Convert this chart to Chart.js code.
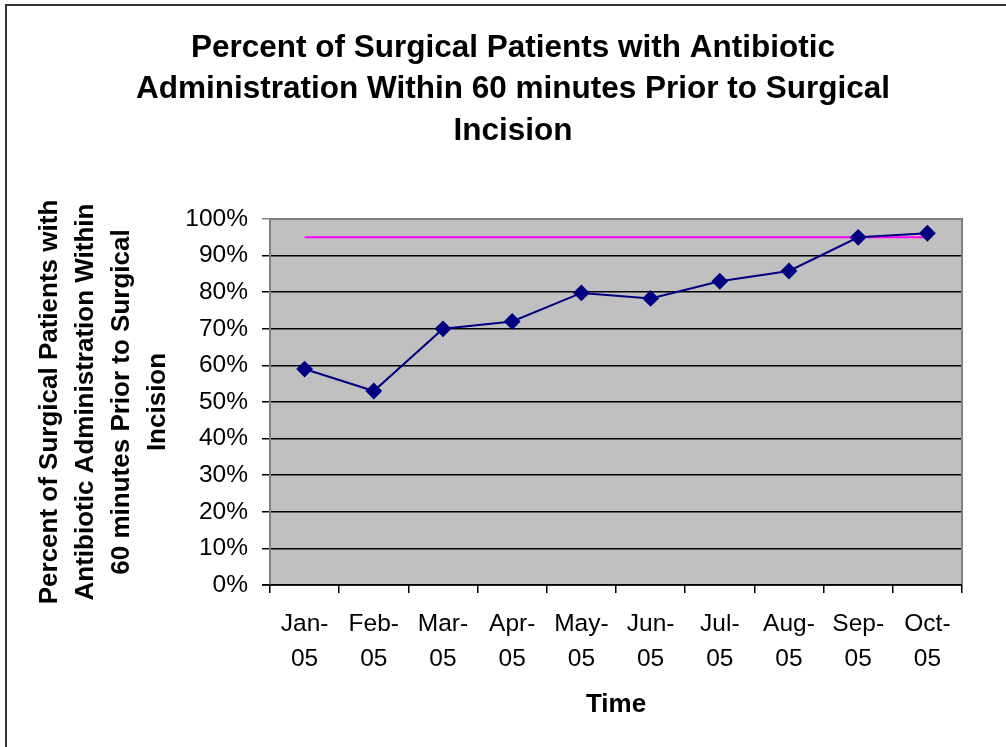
<!DOCTYPE html>
<html>
<head>
<meta charset="utf-8">
<script src="https://cdn.jsdelivr.net/npm/chart.js@4.4.0/dist/chart.umd.min.js"></script>
<style>
html,body{margin:0;padding:0;background:#fff;}
#wrap{width:1006px;height:747px;position:relative;}
</style>
</head>
<body>
<div id="wrap"><canvas id="c" width="1006" height="747"></canvas></div>
<script>
const months = [['Jan-','05'],['Feb-','05'],['Mar-','05'],['Apr-','05'],['May-','05'],['Jun-','05'],['Jul-','05'],['Aug-','05'],['Sep-','05'],['Oct-','05']];
const rateValues = [59, 53, 70, 72, 79.8, 78.3, 83, 85.8, 95, 96.1];
const targetValues = [95, 95, 95, 95, 95, 95, 95, 95, 95, 95];
const titleLines = ['Percent of Surgical Patients with Antibiotic', 'Administration Within 60 minutes Prior to Surgical', 'Incision'];
const yTitleLines = ['Percent of Surgical Patients with', 'Antibiotic Administration Within', '60 minutes Prior to Surgical', 'Incision'];
const xTitle = 'Time';

const FONT = "'Liberation Sans', Arial, sans-serif";

const framePlugin = {
  id: 'frame',
  beforeDraw(chart) {
    const {ctx, chartArea: a} = chart;
    ctx.save();
    ctx.fillStyle = '#fff';
    ctx.fillRect(0, 0, chart.width, chart.height);
    ctx.fillStyle = '#C0C0C0';
    ctx.fillRect(a.left, a.top, a.right - a.left, a.bottom - a.top);
    ctx.strokeStyle = '#333';
    ctx.lineWidth = 2;
    ctx.beginPath();
    ctx.moveTo(6, chart.height);
    ctx.lineTo(6, 5);
    ctx.lineTo(chart.width, 5);
    ctx.stroke();
    // chart title
    ctx.fillStyle = '#000';
    ctx.font = "bold 31.5px " + FONT;
    ctx.textAlign = 'center';
    ctx.textBaseline = 'middle';
    const ys = [48, 89.5, 131];
    titleLines.forEach((t, i) => ctx.fillText(t, 513, ys[i]));
    ctx.restore();
  },
  beforeDatasetsDraw(chart) {
    const {ctx, chartArea: a} = chart;
    ctx.save();
    ctx.strokeStyle = '#808080';
    ctx.lineWidth = 2;
    ctx.beginPath();
    ctx.moveTo(a.left, a.bottom);
    ctx.lineTo(a.left, a.top);
    ctx.lineTo(a.right, a.top);
    ctx.lineTo(a.right, a.bottom);
    ctx.stroke();
    ctx.strokeStyle = '#000';
    ctx.lineWidth = 1.5;
    ctx.beginPath();
    ctx.moveTo(a.left - 8, a.bottom);
    ctx.lineTo(a.right, a.bottom);
    ctx.stroke();
    ctx.restore();
  }
};

new Chart(document.getElementById('c'), {
  type: 'line',
  data: {
    labels: months,
    datasets: [
      {
        label: 'Target',
        data: targetValues,
        borderColor: '#FF00FF',
        backgroundColor: '#FF00FF',
        borderWidth: 2,
        pointRadius: 0,
        fill: false,
        order: 2
      },
      {
        label: 'Percent',
        data: rateValues,
        borderColor: '#000080',
        backgroundColor: '#000080',
        borderWidth: 2,
        pointStyle: 'rectRot',
        pointRadius: 7,
        pointHoverRadius: 7,
        fill: false,
        order: 1
      }
    ]
  },
  plugins: [framePlugin],
  options: {
    responsive: false,
    animation: false,
    events: [],
    layout: { padding: { left: 10, right: 44, top: 219, bottom: 27 } },
    plugins: {
      legend: { display: false },
      tooltip: { enabled: false },
      title: { display: false }
    },
    scales: {
      x: {
        offset: true,
        afterFit(scale) { scale.height = 135; },
        grid: {
          offset: true,
          drawOnChartArea: false,
          drawTicks: true,
          tickLength: 8,
          color: '#000',
          lineWidth: 1.5
        },
        border: { display: false },
        ticks: {
          color: '#000',
          font: { family: FONT, size: 24.5, lineHeight: 1.43 },
          padding: 14,
          maxRotation: 0,
          autoSkip: false
        },
        title: {
          display: true,
          text: xTitle,
          color: '#000',
          font: { family: FONT, size: 26, weight: 'bold', lineHeight: 1.2 },
          padding: { top: 12, bottom: 0 }
        }
      },
      y: {
        min: 0,
        max: 100,
        afterFit(scale) { scale.width = 260; },
        grid: {
          color: (c) => (c.tick && c.tick.value === 100) ? '#808080' : '#000',
          lineWidth: 1.5,
          drawTicks: true,
          tickLength: 8
        },
        border: { display: false },
        ticks: {
          stepSize: 10,
          color: '#000',
          font: { family: FONT, size: 24.5 },
          padding: 14,
          callback: (v) => v + '%'
        },
        title: {
          display: true,
          text: yTitleLines,
          color: '#000',
          font: { family: FONT, size: 26, weight: 'bold', lineHeight: 1.385 },
          padding: { top: 22, bottom: 0 }
        }
      }
    }
  }
});
</script>
</body>
</html>
